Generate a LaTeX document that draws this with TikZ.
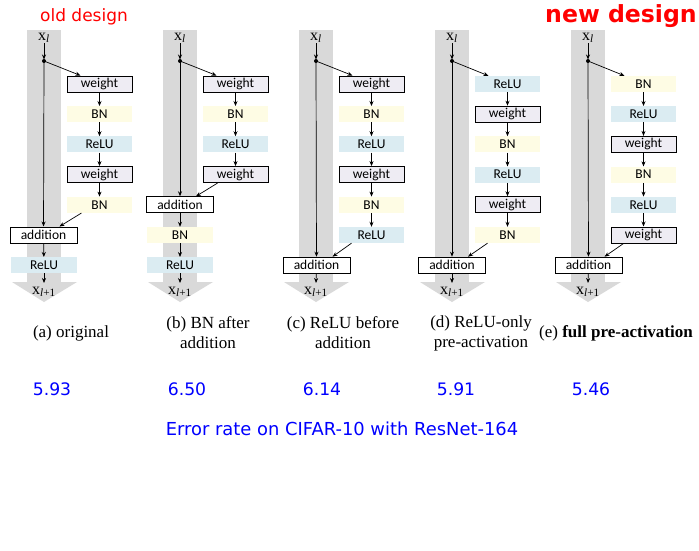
\documentclass[tikz,border=0pt]{standalone}
\usepackage{fontspec}
\setmainfont{Liberation Serif}
\newfontfamily\boxfont{Carlito}
\newfontfamily\dvs{DejaVu Sans}
\usetikzlibrary{arrows.meta}
\definecolor{bandgray}{RGB}{217,217,217}
\definecolor{wcol}{RGB}{238,236,243}
\definecolor{bncol}{RGB}{254,252,228}
\definecolor{rcol}{RGB}{219,236,242}
\newcommand\drawband[1]{%
  \fill[bandgray] (#1-17,30) rectangle (#1+17,282);
  \fill[bandgray] (#1-32,282) -- (#1+33,282) -- (#1,302) -- cycle;}
\begin{document}
\begin{tikzpicture}[x=1pt,y=-1pt,
  arr/.style={-{Stealth[length=5pt,width=4pt]}, line width=0.7pt},
  blk/.style={minimum width=65pt, minimum height=16pt, inner sep=0pt, font=\boxfont\fontsize{13.5}{13.5}\selectfont},
  wbox/.style={blk, draw, line width=1pt, fill=wcol},
  bnbox/.style={blk, fill=bncol},
  rbox/.style={blk, fill=rcol},
  addbox/.style={blk, minimum width=67pt, draw, line width=1pt, fill=white},
  xlab/.style={inner sep=0pt, font=\fontsize{16}{16}\selectfont},
  captext/.style={align=center, font=\fontsize{17}{20}\selectfont},
  num/.style={text=blue, font=\dvs\fontsize{17.2}{17.2}\selectfont},
]
\useasboundingbox (0,0) rectangle (699,550);
\fill[white] (0,0) rectangle (699,550);

% titles
\node[text=red, font=\dvs\fontsize{17}{17}\selectfont] (old) at (84,17) {old design};
\node[text=red, font=\dvs\bfseries\fontsize{23.6}{23.6}\selectfont] (new) at (621,16) {new design};

% bands
\drawband{44}
\drawband{180}
\drawband{316}
\drawband{452}
\drawband{588}

% ===== column a =====
\node[xlab] (a-in) at (44,38) {x\textsubscript{\textit{l}}};
\coordinate (a-dot) at (44,61);
\node[wbox] (a1) at (99.5,84) {weight};
\node[bnbox] (a2) at (99.5,114.2) {BN};
\node[rbox] (a3) at (99.5,144.4) {ReLU};
\node[wbox] (a4) at (99.5,174.6) {weight};
\node[bnbox] (a5) at (99.5,204.8) {BN};
\node[addbox] (a-add) at (43.5,235) {addition};
\node[rbox, minimum width=66pt] (a-post) at (44,265.2) {ReLU};
\coordinate (a-end) at (44,283);
\node[xlab] (a-out) at (44,292) {x\textsubscript{\textit{l}+1}};
\draw[arr, shorten >=1.5pt] (a-in) -- (a-dot);
\draw[arr] (a-dot) -- ([xshift=-19pt]a1.north);
\draw[arr] (a1) -- (a2);
\draw[arr] (a2) -- (a3);
\draw[arr] (a3) -- (a4);
\draw[arr] (a4) -- (a5);
\draw[arr] ([xshift=-18pt]a5.south) -- ([xshift=16pt]a-add.north);
\draw[arr] (a-dot) -- (a-add);
\draw[arr] (a-add) -- (a-post);
\draw[arr] (a-post) -- (a-end);
\fill (a-dot) circle (2pt);

% ===== column b =====
\node[xlab] (b-in) at (180,38) {x\textsubscript{\textit{l}}};
\coordinate (b-dot) at (180,61);
\node[wbox] (b1) at (235.5,84) {weight};
\node[bnbox] (b2) at (235.5,114.2) {BN};
\node[rbox] (b3) at (235.5,144.4) {ReLU};
\node[wbox] (b4) at (235.5,174.6) {weight};
\node[addbox] (b-add) at (180,204.8) {addition};
\node[bnbox, minimum width=66pt] (b-bn) at (180,235) {BN};
\node[rbox, minimum width=66pt] (b-post) at (180,265.2) {ReLU};
\coordinate (b-end) at (180,283);
\node[xlab] (b-out) at (180,292) {x\textsubscript{\textit{l}+1}};
\draw[arr, shorten >=1.5pt] (b-in) -- (b-dot);
\draw[arr] (b-dot) -- ([xshift=-19pt]b1.north);
\draw[arr] (b1) -- (b2);
\draw[arr] (b2) -- (b3);
\draw[arr] (b3) -- (b4);
\draw[arr] ([xshift=-18pt]b4.south) -- ([xshift=16pt]b-add.north);
\draw[arr] (b-dot) -- (b-add);
\draw[arr] (b-add) -- (b-bn);
\draw[arr] (b-bn) -- (b-post);
\draw[arr] (b-post) -- (b-end);
\fill (b-dot) circle (2pt);

% ===== column c =====
\node[xlab] (c-in) at (316,38) {x\textsubscript{\textit{l}}};
\coordinate (c-dot) at (316,61);
\node[wbox] (c1) at (371.5,84) {weight};
\node[bnbox] (c2) at (371.5,114.2) {BN};
\node[rbox] (c3) at (371.5,144.4) {ReLU};
\node[wbox] (c4) at (371.5,174.6) {weight};
\node[bnbox] (c5) at (371.5,204.8) {BN};
\node[rbox] (c6) at (371.5,235) {ReLU};
\node[addbox] (c-add) at (316.5,265.2) {addition};
\coordinate (c-end) at (316,283);
\node[xlab] (c-out) at (316,292) {x\textsubscript{\textit{l}+1}};
\draw[arr, shorten >=1.5pt] (c-in) -- (c-dot);
\draw[arr] (c-dot) -- ([xshift=-19pt]c1.north);
\draw[arr] (c1) -- (c2);
\draw[arr] (c2) -- (c3);
\draw[arr] (c3) -- (c4);
\draw[arr] (c4) -- (c5);
\draw[arr] (c5) -- (c6);
\draw[arr] ([xshift=-20pt]c6.south) -- ([xshift=16pt]c-add.north);
\draw[arr] (c-dot) -- (c-add);
\draw[arr] (c-add) -- (c-end);
\fill (c-dot) circle (2pt);

% ===== column d =====
\node[xlab] (d-in) at (452,38) {x\textsubscript{\textit{l}}};
\coordinate (d-dot) at (452,61);
\node[rbox] (d1) at (507.5,84) {ReLU};
\node[wbox] (d2) at (507.5,114.2) {weight};
\node[bnbox] (d3) at (507.5,144.4) {BN};
\node[rbox] (d4) at (507.5,174.6) {ReLU};
\node[wbox] (d5) at (507.5,204.8) {weight};
\node[bnbox] (d6) at (507.5,235) {BN};
\node[addbox] (d-add) at (452,265.2) {addition};
\coordinate (d-end) at (452,283);
\node[xlab] (d-out) at (452,292) {x\textsubscript{\textit{l}+1}};
\draw[arr, shorten >=1.5pt] (d-in) -- (d-dot);
\draw[arr] (d-dot) -- ([xshift=-19pt]d1.north);
\draw[arr] (d1) -- (d2);
\draw[arr] (d2) -- (d3);
\draw[arr] (d3) -- (d4);
\draw[arr] (d4) -- (d5);
\draw[arr] (d5) -- (d6);
\draw[arr] ([xshift=-20pt]d6.south) -- ([xshift=16pt]d-add.north);
\draw[arr] (d-dot) -- (d-add);
\draw[arr] (d-add) -- (d-end);
\fill (d-dot) circle (2pt);

% ===== column e =====
\node[xlab] (e-in) at (588,38) {x\textsubscript{\textit{l}}};
\coordinate (e-dot) at (588,61);
\node[bnbox] (e1) at (643.5,84) {BN};
\node[rbox] (e2) at (643.5,114.2) {ReLU};
\node[wbox] (e3) at (643.5,144.4) {weight};
\node[bnbox] (e4) at (643.5,174.6) {BN};
\node[rbox] (e5) at (643.5,204.8) {ReLU};
\node[wbox] (e6) at (643.5,235) {weight};
\node[addbox] (e-add) at (588.5,265.2) {addition};
\coordinate (e-end) at (588,283);
\node[xlab] (e-out) at (588,292) {x\textsubscript{\textit{l}+1}};
\draw[arr, shorten >=1.5pt] (e-in) -- (e-dot);
\draw[arr] (e-dot) -- ([xshift=-19pt]e1.north);
\draw[arr] (e1) -- (e2);
\draw[arr] (e2) -- (e3);
\draw[arr] (e3) -- (e4);
\draw[arr] (e4) -- (e5);
\draw[arr] (e5) -- (e6);
\draw[arr] ([xshift=-20pt]e6.south) -- ([xshift=16pt]e-add.north);
\draw[arr] (e-dot) -- (e-add);
\draw[arr] (e-add) -- (e-end);
\fill (e-dot) circle (2pt);

% captions
\node[captext] (capa) at (71,333) {(a) original};
\node[captext] (capb) at (208,333) {(b) BN after\\addition};
\node[captext] (capc) at (343,333) {(c) ReLU before\\addition};
\node[captext] (capd) at (481,333) {(d) ReLU-only\\pre-activation};
\node[captext] (cape) at (616,333) {(e) \textbf{full pre-activation}};

% numbers
\node[num] (na) at (52,389) {5.93};
\node[num] (nb) at (187,389) {6.50};
\node[num] (nc) at (322,389) {6.14};
\node[num] (nd) at (456,389) {5.91};
\node[num] (ne) at (591,389) {5.46};
\node[num, font=\dvs\fontsize{17.9}{17.9}\selectfont] (err) at (342,429) {Error rate on CIFAR-10 with ResNet-164};
\end{tikzpicture}
\end{document}
